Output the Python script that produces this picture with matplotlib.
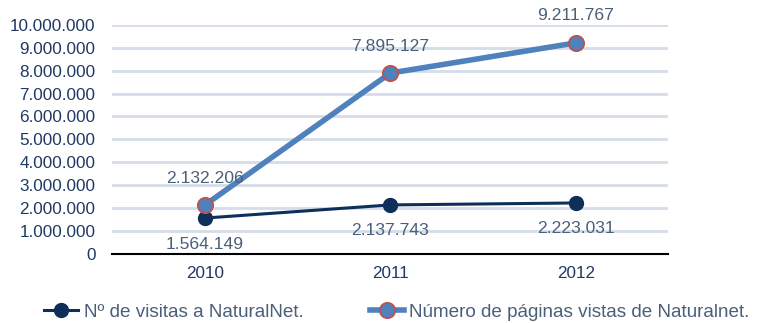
import matplotlib
matplotlib.use('Agg')
import matplotlib.pyplot as plt

plt.rcParams['font.family'] = ['Liberation Sans', 'DejaVu Sans']

# Values per year
years = ['2010', '2011', '2012']
visitas = [1564149, 2137743, 2223031]
paginas = [2132206, 7895127, 9211767]
yticks = list(range(0, 10000001, 1000000))


def fmt(v):
    # thousands separated with dots
    return f'{v:,}'.replace(',', '.')


navy = '#0E2F5A'
blue = '#4F81BD'
red = '#C0504D'
label_col = '#4A607A'
tick_col = '#1F3864'

fig = plt.figure(figsize=(7.63, 3.23), dpi=100)
ax = fig.add_axes([0.147, 0.214, 0.729, 0.709])

x = list(range(len(years)))
ax.plot(x, visitas, color=navy, lw=2.2, marker='o', ms=10,
        mfc=navy, mec=navy, label='Nº de visitas a NaturalNet.', zorder=3)
ax.plot(x, paginas, color=blue, lw=4, marker='o', ms=11,
        mfc=blue, mec=red, mew=1.3, label='Número de páginas vistas de Naturalnet.', zorder=4)

for xi, v in zip(x, visitas):
    ax.annotate(fmt(v), (xi, v), xytext=(0, -26), textcoords='offset pixels',
                ha='center', va='center', fontsize=12.6, color=label_col, zorder=5)
for xi, v in zip(x, paginas):
    ax.annotate(fmt(v), (xi, v), xytext=(0, 27), textcoords='offset pixels',
                ha='center', va='center', fontsize=12.6, color=label_col, zorder=5)

ax.set_xlim(-0.5, 2.5)
ax.set_ylim(0, 10000000)
ax.set_xticks(x)
ax.set_xticklabels(years)
ax.set_yticks(yticks)
ax.set_yticklabels([fmt(v) for v in yticks])
ax.tick_params(length=0, labelsize=12.3, colors=tick_col)
ax.tick_params(axis='y', pad=12)
ax.tick_params(axis='x', pad=9)

ax.grid(axis='y', color='#D5DDE8', lw=2)
ax.set_axisbelow(True)
for s in ['top', 'right', 'left']:
    ax.spines[s].set_visible(False)
ax.spines['bottom'].set_color('black')
ax.spines['bottom'].set_linewidth(1.5)

leg = fig.legend(*ax.get_legend_handles_labels(), loc='center left',
                 bbox_to_anchor=(44 / 763, 1 - 312 / 323), ncol=2,
                 frameon=False, fontsize=13.6, handlelength=1.8, handletextpad=0.3,
                 columnspacing=3.5, labelcolor=label_col, borderpad=0, borderaxespad=0)

fig.savefig('out.png', dpi=100)
